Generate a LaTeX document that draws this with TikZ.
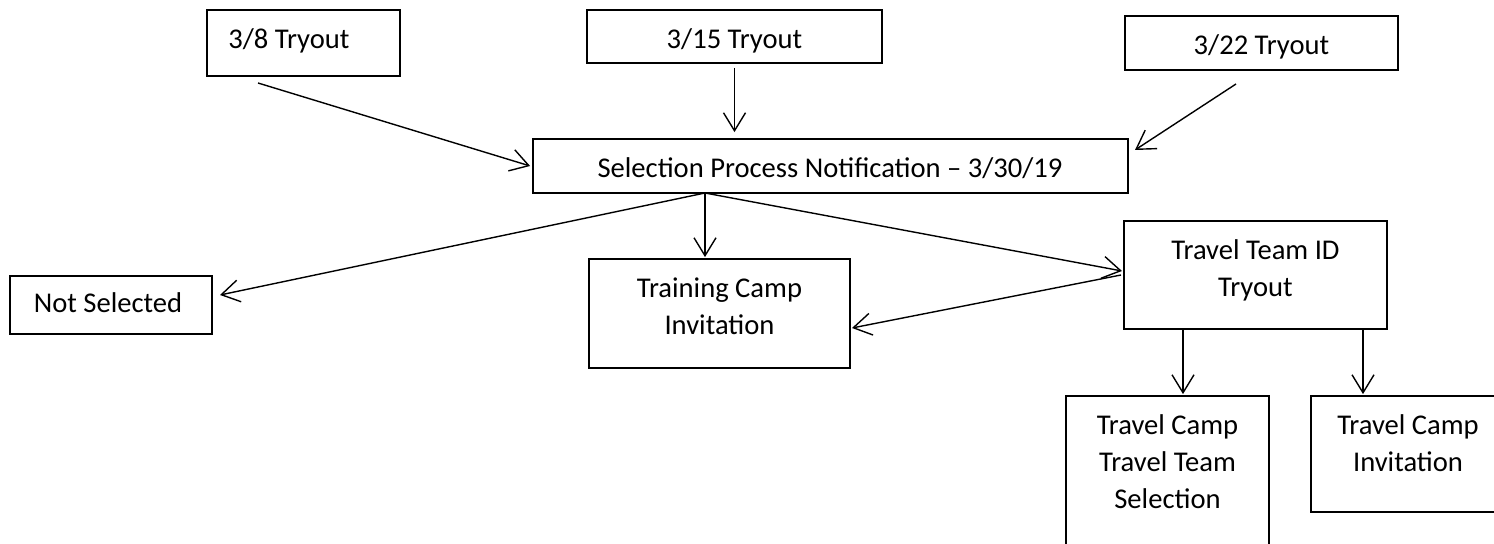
\documentclass[tikz,border=0pt]{standalone}
\usepackage{fontspec}
\setmainfont{Carlito}
\usetikzlibrary{arrows.meta}
\begin{document}
\begin{tikzpicture}[x=0.5pt,y=-0.5pt,
  box/.style={draw, line width=0.9pt, inner sep=0pt},
  lbl/.style={inner sep=0pt, anchor=base, font=\fontsize{14.3}{18.5}\selectfont},
  arr/.style={line width=0.7pt, -{Straight Barb[length=9pt,width=11pt]}}]
\clip (0,0) rectangle (1494,544);

% tryout boxes
\node[box, minimum width=96.5pt, minimum height=33pt] (t8) at (303.5,43) {};
\node[lbl, anchor=base west] (t8l) at (228,49) {3/8 Tryout};
\node[box, minimum width=147.5pt, minimum height=26.5pt] (t15) at (734.5,36.5) {};
\node[lbl] (t15l) at (734.5,49) {3/15 Tryout};
\node[box, minimum width=136.5pt, minimum height=27pt] (t22) at (1261.5,43) {};
\node[lbl] (t22l) at (1261.5,55) {3/22 Tryout};

% notification
\node[box, minimum width=297.5pt, minimum height=27pt] (sel) at (830.5,166) {};
\node[lbl] (sell) at (830,178) {Selection Process Notification – 3/30/19};

% outcomes
\node[box, minimum width=101pt, minimum height=29pt] (ns) at (111,305) {};
\node[lbl] (nsl) at (108,313) {Not Selected};
\node[box, minimum width=130.5pt, minimum height=54.5pt] (tc) at (719.5,313.5) {};
\node[lbl] (tcl) at (719.5,298) {\begin{tabular}[t]{@{}c@{}}Training Camp\\Invitation\end{tabular}};
\node[box, minimum width=131.5pt, minimum height=54pt] (tid) at (1255.5,275) {};
\node[lbl] (tidl) at (1255.5,260) {\begin{tabular}[t]{@{}c@{}}Travel Team ID\\Tryout\end{tabular}};

% travel camp boxes
\node[box, minimum width=101.5pt, minimum height=82pt] (tcs) at (1167.5,478) {};
\node[lbl] (tcsl) at (1167.5,435) {\begin{tabular}[t]{@{}c@{}}Travel Camp\\Travel Team\\Selection\end{tabular}};
\node[box, minimum width=97pt, minimum height=58pt] (tci) at (1408,454) {};
\node[lbl] (tcil) at (1408,435) {\begin{tabular}[t]{@{}c@{}}Travel Camp\\Invitation\end{tabular}};

% connector end points
\coordinate (s8) at (258,83);
\coordinate (s22) at (1236,84);
\coordinate (e22) at (1135,150);
\coordinate (foot) at (705,193);
\coordinate (nsin) at (220,295);
\coordinate (tidin) at (1122,271);
\coordinate (tidout) at (1121,275);
\coordinate (tcin) at (852,328);

% connectors
\draw[arr] (s8) -- ([xshift=-1pt]sel.west);
\draw[arr] ([yshift=-2pt]t15.south) -- ([yshift=3pt]t15.south |- sel.north);
\draw[arr] (s22) -- (e22);
\draw[arr] (foot) -- (nsin);
\draw[arr] (foot) -- ([yshift=0.5pt]foot |- tc.north);
\draw[arr] (foot) -- (tidin);
\draw[arr] (tidout) -- (tcin);
\draw[arr] (tid.south -| 1183,0) -- ([yshift=0.5pt]tcs.north -| 1183,0);
\draw[arr] (tid.south -| 1363,0) -- ([yshift=0.5pt]tci.north -| 1363,0);
\end{tikzpicture}
\end{document}
